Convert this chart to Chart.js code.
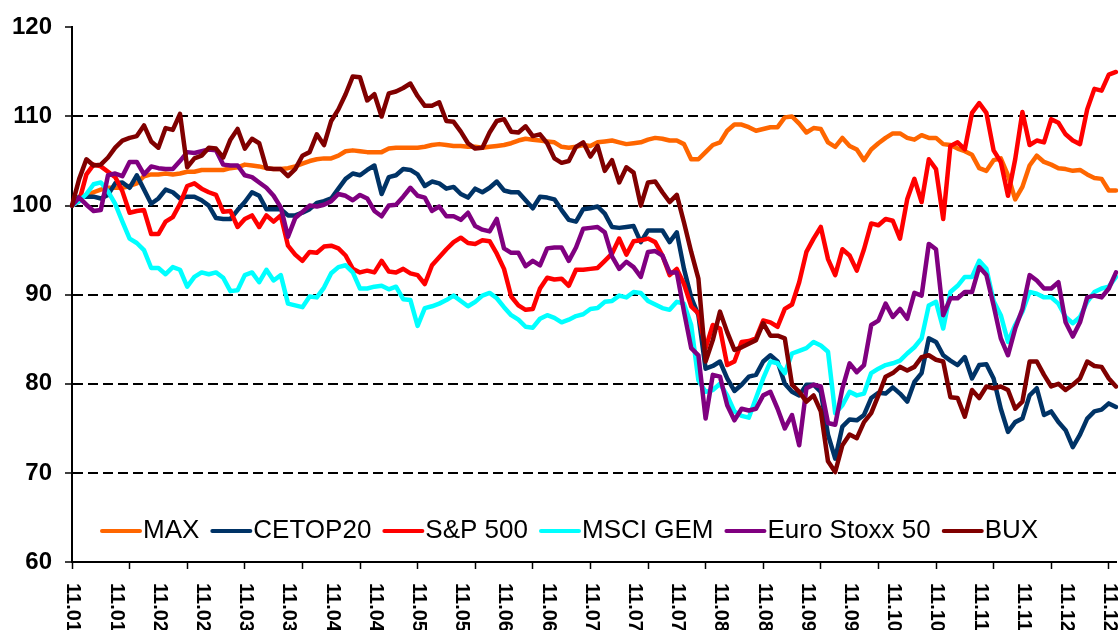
<!DOCTYPE html>
<html>
<head>
<meta charset="utf-8">
<title>Indexek 2011</title>
<script src="https://cdn.jsdelivr.net/npm/chart.js@4/dist/chart.umd.min.js"></script>
<style>
    html, body { margin: 0; padding: 0; background: white; }
    #box { width: 1120px; height: 630px; }
</style>
</head>
<body>
<div id="box"><canvas id="index_chart" width="1120" height="630"></canvas></div>
<script>

/*
    Index performance 2011, start = 100.
    Six daily series (sampled every ~2 trading days).
*/

// x-axis labels, one every 6 points
var tickLabels = ['11.01', '11.01', '11.02', '11.02', '11.03', '11.03', '11.04', '11.04',
                  '11.05', '11.05', '11.06', '11.06', '11.07', '11.07', '11.07', '11.08',
                  '11.08', '11.09', '11.09', '11.10', '11.10', '11.11', '11.11', '11.12', '11.12'];
var labelEvery = 6;
var tickEvery = 8;

var seriesNames = ['MAX', 'CETOP20', 'S&P 500', 'MSCI GEM', 'Euro Stoxx 50', 'BUX'];
var seriesColors = ['#FF6600', '#003366', '#FF0000', '#00FFFF', '#800080', '#800000'];

var maxIdx = [100,100.8,101.2,101.5,101.8,102,102,102,102.2,102.5,103.3,103.5,103.5,103.6,103.5,103.6,103.8,103.8,104,104,104,104,104.2,104.3,
    104.6,104.5,104.4,104.2,104.1,104.1,104.2,104.4,104.7,105,105.2,105.3,105.3,105.6,106.1,106.2,106.1,106,106,106,106.4,106.5,106.5,106.5,
    106.5,106.6,106.8,106.9,106.8,106.7,106.7,106.6,106.6,106.5,106.6,106.7,106.8,107,107.3,107.5,107.4,107.3,107.2,107.1,106.6,106.5,106.6,106.8,106.7,
    107.1,107.2,107.3,107.1,106.9,107,107.1,107.4,107.6,107.5,107.3,107.3,106.9,105.2,105.2,106,106.8,107.1,108.4,109.1,109.1,108.8,108.4,108.6,108.8,
    108.8,109.9,110,109.2,108.2,108.7,108.6,107.1,106.6,107.6,106.7,106.3,105.1,106.3,107,107.6,108.1,108.1,107.6,107.4,107.9,107.6,107.6,106.9,
    106.8,106.4,106.1,105.7,104.2,103.9,105.1,105.3,103.4,100.7,102.1,104.5,105.6,104.9,104.6,104.2,104.1,103.9,104,103.5,103.1,103,101.7,101.7];

var cetop20 = [100,101,101,101,100.8,101.2,102.5,102.6,102,103.4,101.8,100.2,100.8,101.8,101.5,100.8,101,101,100.6,100,98.6,98.5,98.5,99.5,
    100.4,101.5,101.1,99.6,99.6,99.6,98.9,98.9,99.2,99.6,100.3,100.5,100.8,101.9,103,103.6,103.4,104,104.5,101.3,103.2,103.4,104.1,104,
    103.5,102.2,102.7,102.5,101.9,102.1,101.3,100.9,101.9,101.5,102,102.7,101.7,101.5,101.5,100.6,99.7,101,100.9,100.7,99.5,98.4,98.2,99.6,99.7,
    99.9,99.1,97.6,97.5,97.6,97.7,95.9,97.2,97.2,97.2,95.9,97,92.9,89.7,87.7,81.7,82,82.5,80.6,79.2,79.9,80.8,81,82.5,83.2,
    82.5,80,79.1,78.7,79.9,79.9,79.1,74.3,71.6,75.2,76,75.9,76.5,78.4,79,78.9,79.6,78.9,78,80.2,81.2,85.1,84.7,83.2,
    82.6,82.1,83,80.6,82.1,82.2,80.6,77.2,74.6,75.7,76.1,78.7,79.5,76.5,76.9,75.7,74.8,72.9,74.3,76.1,76.9,77.1,77.8,77.4];

var sp500 = [100,100.5,103.5,104.6,104.4,103.8,103.2,101.6,99.2,99.4,99.5,96.8,96.8,98.2,98.7,100.2,102.2,102.5,101.9,101.5,101.2,99.3,99.4,97.6,
    98.5,98.9,97.6,98.9,98.2,98.9,95.5,94.5,93.8,94.8,94.7,95.4,95.5,95.2,94.4,92.9,92.5,92.7,92.5,93.8,92.6,92.5,92.9,92.4,
    92.2,91.2,93.3,94.2,95.1,95.9,96.4,95.8,95.7,96.1,96,94.6,92.9,89.8,88.8,88.3,88.4,90.7,91.9,91.7,91.8,91,92.8,92.8,92.9,
    93,93.8,94.6,96.3,94.5,96,96.1,96.3,95.9,94.4,92.2,92.9,91.2,88.7,87.9,84,86.6,86.2,82.1,82.5,84.7,84.8,85.1,87.1,86.9,
    86.4,88.4,88.9,91.4,94.8,96.3,97.6,94,92.2,95.1,94.4,92.7,95.1,98,97.8,98.5,98.3,96.3,100.7,103,100.4,105.2,104.1,98.5,
    106.7,107.1,106.3,110.4,111.5,110.4,106.2,104.9,101.1,105.2,110.5,106.8,107.3,107.1,109.7,109.3,108,107.3,106.9,110.8,113.1,112.9,114.7,115];

var msciGem = [100,100.5,101.3,102.4,102.6,101.6,100.2,98.2,96.3,95.8,95,93,93,92.3,93.1,92.8,90.9,92,92.5,92.3,92.5,91.9,90.4,90.5,
    92.2,92.5,91.4,92.8,91.6,92.2,89,88.8,88.6,89.8,89.7,90.8,92.4,93.1,93.3,92.5,90.7,90.7,90.9,91,90.6,90.9,89.5,89.4,
    86.5,88.5,88.7,89,89.4,89.9,89.3,88.7,89.2,89.9,90.2,89.6,88.6,87.7,87.2,86.4,86.3,87.3,87.7,87.4,86.9,87.2,87.6,87.8,88.4,
    88.5,89.2,89.3,89.9,89.7,90.3,90.2,89.3,88.9,88.5,88.3,89.2,89,86.6,80.4,79.1,79.3,80,78.7,76.9,76.4,76.2,78.4,80.6,82.5,
    82.3,81.2,83.4,83.7,84,84.7,84.3,83.6,76.7,77.6,79.1,78.7,78.9,81.2,81.7,82.1,82.3,82.6,83.4,84.1,85.1,88.8,89.2,86.2,
    90.3,91,92,92,93.8,92.9,89.3,87.7,84.7,86.6,88.1,90.3,90.1,89.7,89.7,89,87.5,86.8,87.5,89.2,90.3,90.7,90.9,92];

var euroStoxx = [100,100.9,100.1,99.4,99.5,103.4,103.6,103.3,104.9,104.9,103.5,104.4,104.2,104.1,104.1,105,106,105.9,106.1,106.3,106.2,104.6,104.5,104.5,
    103.4,103.2,102.6,102,101.1,99.8,96.5,98.6,99.3,100,99.9,100.1,100.5,101.3,101.1,100.6,101.2,100.8,99.4,98.8,100,100.1,101,102,
    101.1,100.9,99.4,99.9,98.8,98.8,98.4,99.2,97.7,97.3,97.1,98.5,95.2,94.7,94.7,93.2,93.8,93.3,95.2,95.3,95.3,93.8,95.3,97.4,97.5,
    97.6,97,94.3,92.9,93.7,93.1,92,94.8,94.9,94.4,92.5,92.5,88.1,84,83.2,76.1,81,80.8,77.6,75.9,77.2,77,77.2,78.7,79.1,
    77.2,75,76.5,73.1,79.5,79.9,79.7,75.6,75.4,79.5,82.3,81.3,82.1,86.6,87.1,89,87.5,88.4,87.3,90.2,89.9,95.7,95.1,87.7,
    89.6,89.6,90.3,90.3,93.1,92.2,88.8,85.1,83.2,86.2,88.4,92.2,91.6,90.7,90.7,91.4,86.9,85.3,86.9,89.7,89.9,89.7,90.7,92.5];

var bux = [100,103,105.2,104.5,104.6,105.4,106.5,107.3,107.6,107.8,109,107.2,106.5,108.7,108.5,110.3,104.3,105.3,105.6,106.5,106.4,105.4,107.4,108.6,
    106.4,107.5,107,104.2,104.1,104.1,103.3,104.1,105.6,106,108,106.8,109.5,110.8,112.5,114.5,114.4,111.8,112.5,110,112.6,112.8,113.2,113.7,
    112.3,111.2,111.2,111.6,109.5,109.4,108.3,107,106.4,106.5,108.2,109.5,109.7,108.3,108.2,108.9,107.8,108,107,105.3,104.8,105,106.6,107.1,105.5,
    106.7,103.9,105.1,102.6,104.3,103.7,100,102.6,102.7,101.5,100.4,101.2,98.1,94.8,91.8,82.5,84.9,88.1,85.8,83.8,84.1,84.5,84.9,86.8,85.4,
    85.4,85.1,79.9,79.1,78,78.7,76.9,71.3,70.1,73.1,74.3,73.9,75.7,76.7,78.7,80.8,81.2,81.9,81.5,81.9,83,83.2,82.7,82.5,
    78.5,78.4,76.3,79.3,78.4,79.7,79.5,79.7,79.3,77.2,78,82.5,82.5,81,79.7,80,79.3,79.9,80.6,82.5,82,81.9,80.6,79.7];

var allSeries = [maxIdx, cetop20, sp500, msciGem, euroStoxx, bux];


Chart.defaults.font.family = "'Liberation Sans', Arial, sans-serif";
Chart.defaults.color = 'black';


// category labels: tick label on every 6th point, blank otherwise
var categories = maxIdx.map(function(v, i) {
    return (i % labelEvery === 0) ? tickLabels[i / labelEvery] : '';
});

var datasets = [];
for (var s = 0; s < allSeries.length; s++) {
    datasets.push({
        label: seriesNames[s],
        data: allSeries[s],
        borderColor: seriesColors[s],
        backgroundColor: seriesColors[s],
        borderWidth: 4.5,
        borderJoinStyle: 'round',
        borderCapStyle: 'round',
        pointRadius: 0,
        tension: 0,
        fill: false,
        order: allSeries.length - s,       // last series on top, like the original
    });
}


// x labels rotated clockwise (read top to bottom)
var xLabelPlugin = {
    id: 'xLabels',
    afterDraw: function(chart) {
        var ctx = chart.ctx;
        var xs = chart.scales.x;
        var top = chart.chartArea.bottom + 21;
        ctx.save();
        ctx.font = "bold 20px 'Liberation Sans', Arial, sans-serif";
        ctx.fillStyle = 'black';
        ctx.textAlign = 'left';
        ctx.textBaseline = 'middle';
        for (var i = 0; i < tickLabels.length; i++) {
            var x = xs.getPixelForValue(i * labelEvery);
            ctx.save();
            ctx.translate(x + 1, top);
            ctx.rotate(Math.PI / 2);
            ctx.fillText(tickLabels[i], 0, 0);
            ctx.restore();
        }
        ctx.restore();
    }
};

// legend drawn inside the plot, one row near the bottom
var insideLegend = {
    id: 'insideLegend',
    afterDatasetsDraw: function(chart) {
        var ctx = chart.ctx;
        var y = chart.chartArea.bottom - 31;
        var x = chart.chartArea.left + 30;
        ctx.save();
        ctx.font = "26px 'Liberation Sans', Arial, sans-serif";
        ctx.textBaseline = 'middle';
        ctx.textAlign = 'left';
        chart.data.datasets.forEach(function(ds) {
            ctx.strokeStyle = ds.borderColor;
            ctx.lineWidth = 4;
            ctx.lineCap = 'round';
            ctx.beginPath();
            ctx.moveTo(x, y);
            ctx.lineTo(x + 38, y);
            ctx.stroke();
            x += 41;
            ctx.fillStyle = 'black';
            ctx.fillText(ds.label, x, y);
            x += ctx.measureText(ds.label).width + 13;
        });
        ctx.restore();
    }
};


var ctx = document.getElementById('index_chart').getContext('2d');

var index_chart = new Chart(ctx, {
    type: 'line',

    data: {
        labels: categories,
        datasets: datasets,
    },

    options: {
        responsive: false,
        animation: false,
        devicePixelRatio: 1,

        layout: {
            padding: { top: 25, right: 4, left: 0, bottom: 0 },},

        scales: {
            x: {
                type: 'category',
                ticks: { display: false, autoSkip: false,},
                grid: {
                    drawOnChartArea: false,
                    tickLength: 7,
                    tickWidth: 1.5,
                    tickColor: function(c) { return (c.index % tickEvery === 0) ? 'black' : 'rgba(0,0,0,0)'; },},
                border: { color: 'black', width: 2,},
                afterFit: function(scale) { scale.height = 68; },},

            y: {
                min: 60,
                max: 120,
                ticks: {
                    stepSize: 10,
                    padding: 13,
                    color: 'black',
                    font: { size: 24, weight: 'bold' },},
                grid: {
                    lineWidth: 2,
                    tickLength: 7,
                    tickWidth: 1.5,
                    tickColor: 'black',
                    color: function(c) {
                        var v = c.tick ? c.tick.value : 0;
                        return (v === 60 || v === 120) ? 'rgba(0,0,0,0)' : 'black'; },},
                border: { color: 'black', width: 2, dash: [10, 5],},
                afterFit: function(scale) { scale.width = 72; },},},

        plugins: {
            legend: { display: false,},
            tooltip: { enabled: false,},},
    },

    plugins: [xLabelPlugin, insideLegend],
});

</script>
</body>
</html>
